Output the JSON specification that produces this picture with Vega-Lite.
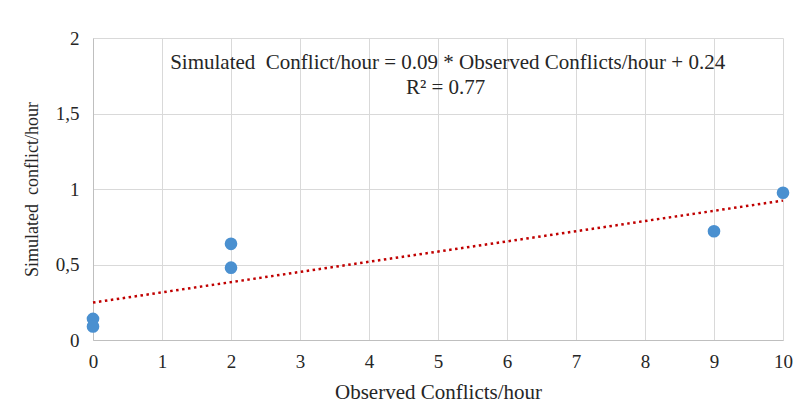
{
  "$schema": "https://vega.github.io/schema/vega-lite/v6.json",
  "width": 690,
  "height": 302,
  "autosize": "none",
  "padding": {"left": 93, "top": 38, "right": 19, "bottom": 66},
  "background": "white",
  "config": {
    "view": {"stroke": null},
    "font": "Liberation Serif",
    "text": {"font": "Liberation Serif", "fontWeight": "normal"},
    "axis": {
      "labelFont": "Liberation Serif",
      "titleFont": "Liberation Serif",
      "labelFontSize": 19,
      "titleFontSize": 21,
      "titleFontWeight": "normal",
      "labelColor": "#262626",
      "titleColor": "#262626",
      "gridColor": "#d9d9d9",
      "gridWidth": 1,
      "domainColor": "#bfbfbf",
      "ticks": false,
      "labelFlush": false
    }
  },
  "datasets": {
    "points": [
      {"observed": 0, "simulated": 0.14},
      {"observed": 0, "simulated": 0.09},
      {"observed": 2, "simulated": 0.637},
      {"observed": 2, "simulated": 0.479},
      {"observed": 9, "simulated": 0.72},
      {"observed": 10, "simulated": 0.975}
    ],
    "equation": [
      {"label": "Simulated\u00a0 Conflict/hour = 0.09 * Observed Conflicts/hour + 0.24"}
    ],
    "r2": [
      {"label": "R² = 0.77"}
    ]
  },
  "layer": [
    {
      "data": {"name": "points"},
      "transform": [
        {"regression": "simulated", "on": "observed", "extent": [0, 10]}
      ],
      "mark": {"type": "line", "color": "#c00000", "strokeWidth": 2.5, "strokeDash": [2.5, 3.5]},
      "encoding": {
        "x": {"field": "observed", "type": "quantitative"},
        "y": {"field": "simulated", "type": "quantitative"}
      }
    },
    {
      "data": {"name": "points"},
      "mark": {"type": "point", "filled": true, "opacity": 1, "color": "#4a90d0", "size": 160},
      "encoding": {
        "x": {
          "field": "observed",
          "type": "quantitative",
          "scale": {"domain": [0, 10], "nice": false},
          "axis": {"title": "Observed Conflicts/hour", "labelFont": "Liberation Serif", "titleFont": "Liberation Serif", "values": [0,1,2,3,4,5,6,7,8,9,10], "format": "d", "labelPadding": 12, "titlePadding": 10, "grid": true}
        },
        "y": {
          "field": "simulated",
          "type": "quantitative",
          "scale": {"domain": [0, 2], "nice": false},
          "axis": {
            "title": "Simulated\u00a0 conflict/hour",
            "labelFont": "Liberation Serif",
            "titleFont": "Liberation Serif",
            "titleFontSize": 18,
            "values": [0, 0.5, 1, 1.5, 2],
            "labelExpr": "replace(format(datum.value, ''), '.', ',')",
            "labelPadding": 14,
            "titlePadding": 14,
            "grid": true
          }
        }
      }
    },
    {
      "data": {"name": "equation"},
      "mark": {
        "type": "text",
        "font": "Liberation Serif",
        "fontSize": 21,
        "color": "#262626",
        "align": "center",
        "baseline": "middle"
      },
      "encoding": {
        "text": {"field": "label"},
        "x": {"datum": 5.14},
        "y": {"datum": 1.837}
      }
    },
    {
      "data": {"name": "r2"},
      "mark": {
        "type": "text",
        "font": "Liberation Serif",
        "fontSize": 21,
        "color": "#262626",
        "align": "center",
        "baseline": "middle"
      },
      "encoding": {
        "text": {"field": "label"},
        "x": {"datum": 5.11},
        "y": {"datum": 1.672}
      }
    }
  ]
}
